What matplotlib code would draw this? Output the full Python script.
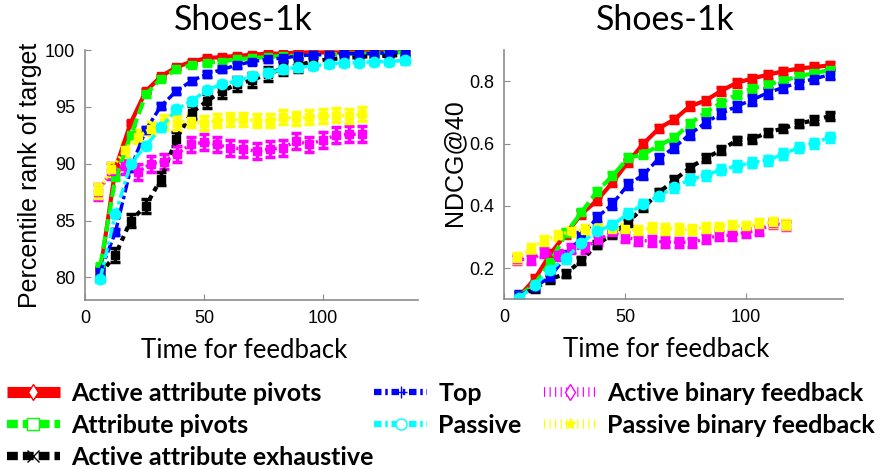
import numpy as np
import matplotlib
matplotlib.use("Agg")
import matplotlib.pyplot as plt
from matplotlib.lines import Line2D

# time points (attribute based methods / binary feedback methods)
t_attr = [6.4, 12.8, 19.2, 25.6, 32.0, 38.4, 44.8, 51.2, 57.6, 64.0, 70.4,
          76.8, 83.2, 89.6, 96.0, 102.4, 108.8, 115.2, 121.6, 128.0, 134.4]
t_bin = [5.5, 11.1, 16.6, 22.2, 27.7, 33.3, 38.8, 44.4, 50.0, 55.5, 61.0,
         66.6, 72.1, 77.7, 83.2, 88.8, 94.3, 99.9, 105.4, 111.0, 116.5]

# left panel: percentile rank of target
rank_act_piv = [80.5, 89.6, 93.6, 96.4, 97.7, 98.5, 99.0, 99.3, 99.4, 99.5, 99.6,
                99.7, 99.7, 99.8, 99.8, 99.8, 99.8, 99.9, 99.9, 99.9, 99.9]
rank_piv = [81.0, 88.8, 92.5, 96.1, 97.5, 98.3, 98.7, 98.9, 99.0, 99.2, 99.3,
            99.4, 99.5, 99.5, 99.6, 99.6, 99.7, 99.7, 99.7, 99.8, 99.8]
rank_exh = [80.3, 82.0, 85.0, 86.3, 88.7, 92.2, 94.5, 95.5, 96.4, 97.0, 97.4,
            97.9, 98.4, 98.7, 99.0, 99.2, 99.3, 99.4, 99.5, 99.5, 99.6]
rank_top = [80.5, 84.0, 89.6, 93.0, 95.1, 96.4, 97.3, 97.9, 98.3, 98.7, 99.0,
            99.2, 99.3, 99.5, 99.6, 99.6, 99.7, 99.7, 99.7, 99.8, 99.8]
rank_pas = [79.9, 85.6, 90.0, 91.6, 93.2, 94.8, 95.5, 96.5, 97.0, 97.3, 97.7,
            98.0, 98.3, 98.5, 98.6, 98.8, 98.9, 98.9, 99.0, 99.0, 99.1]
rank_act_bin = [87.5, 89.4, 89.8, 89.3, 90.0, 90.2, 90.9, 91.7, 91.9, 91.7, 91.4,
                91.3, 91.1, 91.3, 91.4, 92.0, 91.7, 92.1, 92.5, 92.6, 92.6]
rank_pas_bin = [87.6, 89.5, 91.2, 92.4, 93.1, 93.7, 93.6, 93.8, 93.6, 93.8, 93.9,
                93.9, 93.8, 93.8, 94.1, 94.0, 94.1, 94.2, 94.3, 94.2, 94.4]
rank_err = [0.15, 0.2, 0.6, 0.25, 0.3, 0.7, 0.6]

# right panel: NDCG@40
ndcg_act_piv = [0.11, 0.166, 0.246, 0.31, 0.374, 0.417, 0.475, 0.54, 0.60, 0.649, 0.678,
                0.72, 0.738, 0.769, 0.795, 0.809, 0.821, 0.832, 0.841, 0.846, 0.851]
ndcg_piv = [0.11, 0.15, 0.22, 0.312, 0.379, 0.446, 0.496, 0.553, 0.566, 0.594, 0.619,
            0.664, 0.70, 0.731, 0.757, 0.777, 0.789, 0.802, 0.816, 0.826, 0.836]
ndcg_exh = [0.11, 0.135, 0.165, 0.182, 0.225, 0.275, 0.31, 0.347, 0.395, 0.443, 0.483,
            0.523, 0.553, 0.579, 0.61, 0.615, 0.635, 0.649, 0.664, 0.675, 0.688]
ndcg_top = [0.11, 0.14, 0.172, 0.24, 0.30, 0.362, 0.406, 0.468, 0.50, 0.553, 0.588,
            0.63, 0.667, 0.696, 0.72, 0.74, 0.763, 0.78, 0.795, 0.808, 0.821]
ndcg_pas = [0.105, 0.145, 0.195, 0.232, 0.28, 0.32, 0.337, 0.375, 0.405, 0.433, 0.459,
            0.485, 0.498, 0.516, 0.528, 0.539, 0.546, 0.566, 0.587, 0.601, 0.62]
ndcg_act_bin = [0.228, 0.228, 0.25, 0.242, 0.262, 0.265, 0.289, 0.315, 0.30, 0.289, 0.287,
                0.284, 0.283, 0.283, 0.294, 0.305, 0.305, 0.315, 0.321, 0.344, 0.337]
ndcg_pas_bin = [0.232, 0.262, 0.289, 0.305, 0.318, 0.323, 0.326, 0.326, 0.326, 0.32, 0.331,
                0.326, 0.326, 0.323, 0.331, 0.331, 0.337, 0.334, 0.342, 0.347, 0.34]
ndcg_err = [0.012, 0.012, 0.012, 0.015, 0.015, 0.015, 0.015]

names = ["Active attribute pivots", "Attribute pivots", "Active attribute exhaustive",
         "Top", "Passive", "Active binary feedback", "Passive binary feedback"]
colors = ["#ff0000", "#00ff00", "#000000", "#0000ff", "#00ffff", "#ff00ff", "#ffff00"]
lstyles = ["-", (0, (3, 1.2)), (0, (1.2, 1.2)), (0, (3, 1, 1, 1)), (0, (3, 1, 1, 1)),
           (0, (0.6, 0.8)), (0, (0.6, 0.8))]
markers = ["s", "s", "s", "s", "o", "s", "s"]
order = [0, 1, 2, 3, 5, 6, 4]

spine_col = "#8c8c8c"
label_font = ["Liberation Sans", "DejaVu Sans"]
calibri_like = ["Lato", "DejaVu Sans"]


def draw_panel(ax, series, errs, ylim, yticks, ylabel, ylab_pos):
    for i in order:
        xs = t_bin if i >= 5 else t_attr
        ms = 7.5 if markers[i] == "o" else 5.5
        ax.errorbar(xs, series[i], yerr=errs[i], color=colors[i], ls=lstyles[i],
                    lw=3 if i < 3 else 2.5, marker=markers[i], ms=ms, mec=colors[i],
                    elinewidth=2.5, capsize=3.5, capthick=2.5)
    ax.set_xlim(0, 140)
    ax.set_ylim(*ylim)
    ax.set_xticks([0, 50, 100])
    ax.set_yticks(yticks)
    for s in ["top", "right"]:
        ax.spines[s].set_visible(False)
    for s in ["left", "bottom"]:
        ax.spines[s].set_color(spine_col)
        ax.spines[s].set_linewidth(1.2)
    ax.tick_params(direction="in", length=4, color=spine_col, labelsize=13, pad=7,
                   labelfontfamily="Liberation Sans")
    ax.text(0.475, 1.12, "Shoes-1k", transform=ax.transAxes, ha="center", va="center",
            fontsize=24.5, family=calibri_like)
    ax.set_xlabel("Time for feedback", fontsize=18.5, family=calibri_like, va="center")
    ax.xaxis.set_label_coords(0.477, -0.2)
    ax.set_ylabel(ylabel, fontsize=18, family=label_font, va="center")
    ax.yaxis.set_label_coords(*ylab_pos)


fig = plt.figure(figsize=(8.81, 4.69), dpi=100)
ax1 = fig.add_axes([0.0965, 0.36, 0.378, 0.533])
ax2 = fig.add_axes([0.572, 0.362, 0.385, 0.531])

draw_panel(ax1, [rank_act_piv, rank_piv, rank_exh, rank_top, rank_pas, rank_act_bin, rank_pas_bin],
           rank_err, (78, 100), [80, 85, 90, 95, 100], "Percentile rank of target", (-0.165, 0.5))
draw_panel(ax2, [ndcg_act_piv, ndcg_piv, ndcg_exh, ndcg_top, ndcg_pas, ndcg_act_bin, ndcg_pas_bin],
           ndcg_err, (0.1, 0.9), [0.2, 0.4, 0.6, 0.8], "NDCG@40", (-0.145, 0.55))

# legend handles
leg_lw = [8, 6, 6, 4.5, 4.5, 7, 7]
leg_ls = ["-", (0, (1.3, 0.6)), (0, (1.3, 0.6)), (0, (1.2, 0.6, 0.4, 0.6)),
          (0, (1.2, 0.6, 0.4, 0.6)), (0, (0.12, 0.45)), (0, (0.12, 0.45))]
leg_mk = ["d", "s", "x", "+", "o", "d", "*"]
handles = []
for i in range(7):
    fc = "white" if leg_mk[i] in ("d", "s", "o") else colors[i]
    handles.append(Line2D([], [], color=colors[i], lw=leg_lw[i], ls=leg_ls[i],
                          marker=leg_mk[i], ms=8, mfc=fc, mec=colors[i], mew=1,
                          solid_capstyle="butt", dash_capstyle="butt"))

cols = [([0, 1, 2], 0.008), ([3, 4], 0.425), ([5, 6], 0.617)]
for idx, x0 in cols:
    fig.legend([handles[i] for i in idx], [names[i] for i in idx], loc="upper left",
               bbox_to_anchor=(x0, 0.185), frameon=False, handlelength=2.1,
               handletextpad=0.45, labelspacing=0.36, borderaxespad=0, borderpad=0,
               prop={"family": calibri_like, "weight": "bold", "size": 18})

fig.savefig("out.png", dpi=100)
